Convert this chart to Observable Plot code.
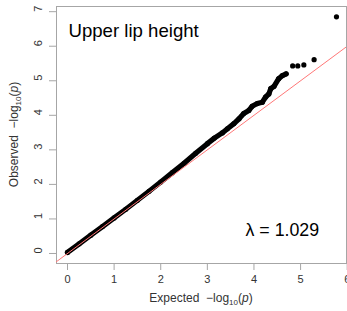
<!DOCTYPE html>
<html>
<head>
<meta charset="utf-8">
<script src="https://cdn.jsdelivr.net/npm/d3@7"></script>
<script src="https://cdn.jsdelivr.net/npm/@observablehq/plot@0.6"></script>
<style>
  html, body { margin: 0; padding: 0; background: #fff; }
  #chart { width: 347px; height: 311px; }
  svg { font-family: "Liberation Sans", Arial, sans-serif; }
</style>
</head>
<body>
<div id="chart"></div>
<script>
// ---- data ----
const titleText = "Upper lip height";
const lambdaText = "λ = 1.029";
// Dense band of QQ points (expected, observed)
const bandExpected = [0.00, 0.25, 0.50, 0.75, 1.00, 1.25, 1.50, 1.75, 2.00, 2.25, 2.50, 2.75, 3.00, 3.15, 3.32, 3.43, 3.57, 3.68, 3.78, 3.89, 3.96, 4.07, 4.18, 4.25, 4.32, 4.36, 4.43, 4.53, 4.61, 4.69];
const bandObserved = [0.03, 0.28, 0.53, 0.78, 1.03, 1.28, 1.54, 1.80, 2.07, 2.34, 2.61, 2.90, 3.18, 3.34, 3.49, 3.61, 3.76, 3.90, 4.05, 4.14, 4.26, 4.34, 4.38, 4.53, 4.62, 4.77, 4.84, 5.06, 5.15, 5.20];
// Sparse tail points
const tailExpected = [4.83, 4.94, 5.07, 5.29, 5.77];
const tailObserved = [5.43, 5.43, 5.46, 5.61, 6.85];
const xTicks = [0, 1, 2, 3, 4, 5, 6];
const yTicks = [0, 1, 2, 3, 4, 5, 6, 7];
const xDomain = [-0.236, 5.985];
const yDomain = [-0.29, 7.15];

const band = bandExpected.map((e, i) => ({e, o: bandObserved[i]}));
const tail = tailExpected.map((e, i) => ({e, o: tailObserved[i]}));
const refLine = [{v: -1}, {v: 7}];

const frameColor = "#a6a6a6";
const labelColor = "#333";

const plot = Plot.plot({
  width: 347,
  height: 311,
  marginLeft: 56,
  marginRight: 1,
  marginTop: 6,
  marginBottom: 48,
  style: {fontFamily: "Liberation Sans, Arial, sans-serif", background: "#fff"},
  x: {domain: xDomain, label: null},
  y: {domain: yDomain, label: null},
  marks: [
    Plot.frame({stroke: frameColor, strokeWidth: 1}),
    Plot.axisX({ticks: xTicks, tickSize: 7, tickPadding: 5, fontSize: 11, stroke: frameColor, color: labelColor, label: null, tickFormat: d => d}),
    Plot.axisY({ticks: yTicks, tickSize: 7, tickPadding: 0, fontSize: 11, stroke: frameColor, color: labelColor, label: null, tickFormat: () => ""}),
    Plot.text(yTicks, {y: d => d, text: d => String(d), frameAnchor: "left", dx: -18, rotate: -90, fontSize: 11, fill: labelColor}),
    Plot.line(band, {x: "e", y: "o", stroke: "#000", strokeWidth: 5.2, strokeLinecap: "round", strokeLinejoin: "round"}),
    Plot.dot(band, {x: "e", y: "o", r: 2.6, fill: "#000", stroke: "none"}),
    Plot.dot(tail, {x: "e", y: "o", r: 2.6, fill: "#000", stroke: "none"}),
    Plot.line(refLine, {x: "v", y: "v", stroke: "#f77", strokeWidth: 1, clip: true}),
    Plot.text([titleText], {text: d => d, frameAnchor: "top-left", dx: 12, dy: 17, textAnchor: "start", fontSize: 18.6, fill: "#000"}),
    Plot.text([lambdaText], {text: d => d, frameAnchor: "bottom-left", dx: 189, dy: -27.4, textAnchor: "start", fontSize: 17.8, fill: "#000"})
  ]
});

const svg = d3.select(plot);
const xr = plot.scale("x").range;
const yr = plot.scale("y").range;

function addLabel(sel, prefix) {
  sel.append("tspan").text(prefix + "\u00a0\u00a0\u2212log");
  sel.append("tspan").attr("font-size", 8).attr("dy", 3).text("10");
  sel.append("tspan").attr("dy", -3).text("(");
  sel.append("tspan").attr("font-style", "italic").text("p");
  sel.append("tspan").text(")");
}

const xl = svg.append("text")
  .attr("x", (xr[0] + xr[1]) / 2)
  .attr("y", 302)
  .attr("text-anchor", "middle")
  .attr("font-size", 12)
  .attr("fill", labelColor);
addLabel(xl, "Expected");

const yl = svg.append("text")
  .attr("transform", `translate(18,${(yr[0] + yr[1]) / 2}) rotate(-90)`)
  .attr("text-anchor", "middle")
  .attr("font-size", 12)
  .attr("fill", labelColor);
addLabel(yl, "Observed");

document.getElementById("chart").appendChild(plot);
</script>
</body>
</html>
